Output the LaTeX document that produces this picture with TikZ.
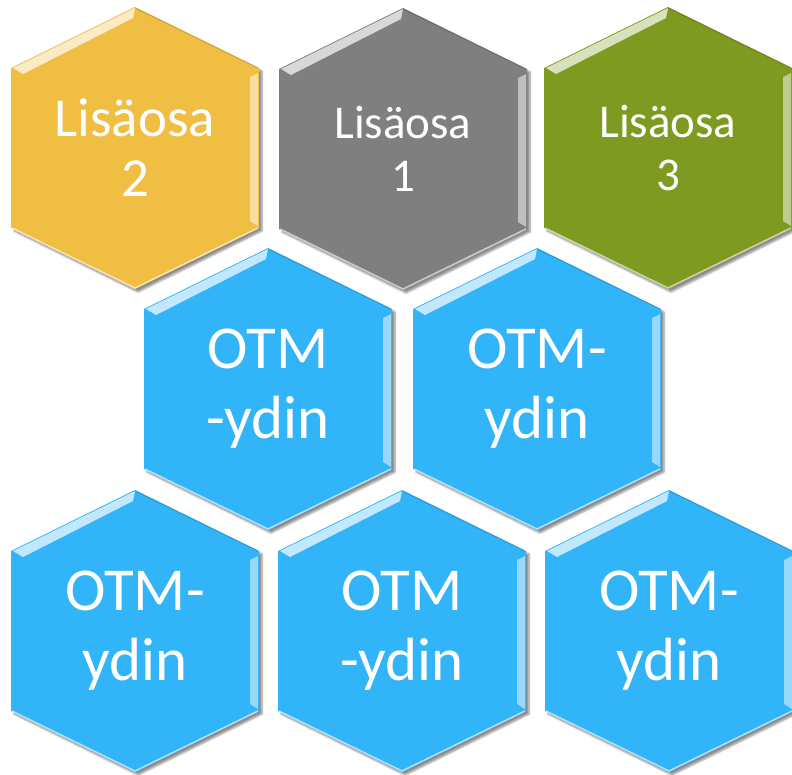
\documentclass[tikz,border=0pt]{standalone}
\usepackage{fontspec}
\setmainfont{Carlito}
\usepackage{tikz}
\usetikzlibrary{shadows.blur}

\definecolor{lisaYellow}{RGB}{240,190,66}
\definecolor{lisaGray}{RGB}{127,127,127}
\definecolor{lisaGreen}{RGB}{127,154,32}
\definecolor{otmBlue}{RGB}{50,180,248}

% hexagon with bevel: #1 name, #2 position, #3 colour, #4 font size, #5 line skip, #6 text
\newcommand{\hexcell}[6]{%
  \begin{scope}[shift={#2}]
    \fill[#3, hexshadow] (-124,-80) -- (0,-141) -- (124,-80) -- (124,80) -- (0,141) -- (-124,80) -- cycle;
    \fill[white, opacity=0.7] (-122,-80) -- (0,-140) -- (-2,-130) -- (-112,-74) -- cycle;
    \fill[white, opacity=0.5] (123,-75) -- (123,78) -- (115,73) -- (115,-71) -- cycle;
    \draw[white, opacity=0.6, line width=1.5pt] (-123,80) -- (0,140) -- (123,80);
    \draw[black, opacity=0.15, line width=1pt] (0,-140) -- (123,-80);
  \end{scope}
  \node[cell text, font=\fontsize{#4}{#5}\selectfont] (#1) at #2 {#6};
}

\begin{document}
\begin{tikzpicture}[
        x=1pt, y=-1pt,
        hexshadow/.style={blur shadow={shadow xshift=3pt, shadow yshift=-3pt, shadow blur steps=6, shadow opacity=45}},
        cell text/.style={text=white, align=center, inner sep=0pt}
    ]
        \useasboundingbox (0,0) rectangle (792,774);

        % Top row
        \hexcell{lisa2}{(135,148)}{lisaYellow}{55}{60}{Lisäosa\\2}
        \hexcell{lisa1}{(403,149)}{lisaGray}{47}{53}{Lisäosa\\1}
        \hexcell{lisa3}{(668,148)}{lisaGreen}{47}{53}{Lisäosa\\3}

        % Middle row
        \hexcell{ydinA}{(268,389)}{otmBlue}{61}{70}{OTM\\-ydin}
        \hexcell{ydinB}{(537,389)}{otmBlue}{61}{70}{OTM-\\ydin}

        % Bottom row
        \hexcell{ydinC}{(135,631)}{otmBlue}{61}{70}{OTM-\\ydin}
        \hexcell{ydinD}{(402,631)}{otmBlue}{61}{70}{OTM\\-ydin}
        \hexcell{ydinE}{(669,631)}{otmBlue}{61}{70}{OTM-\\ydin}
    \end{tikzpicture}
\end{document}
